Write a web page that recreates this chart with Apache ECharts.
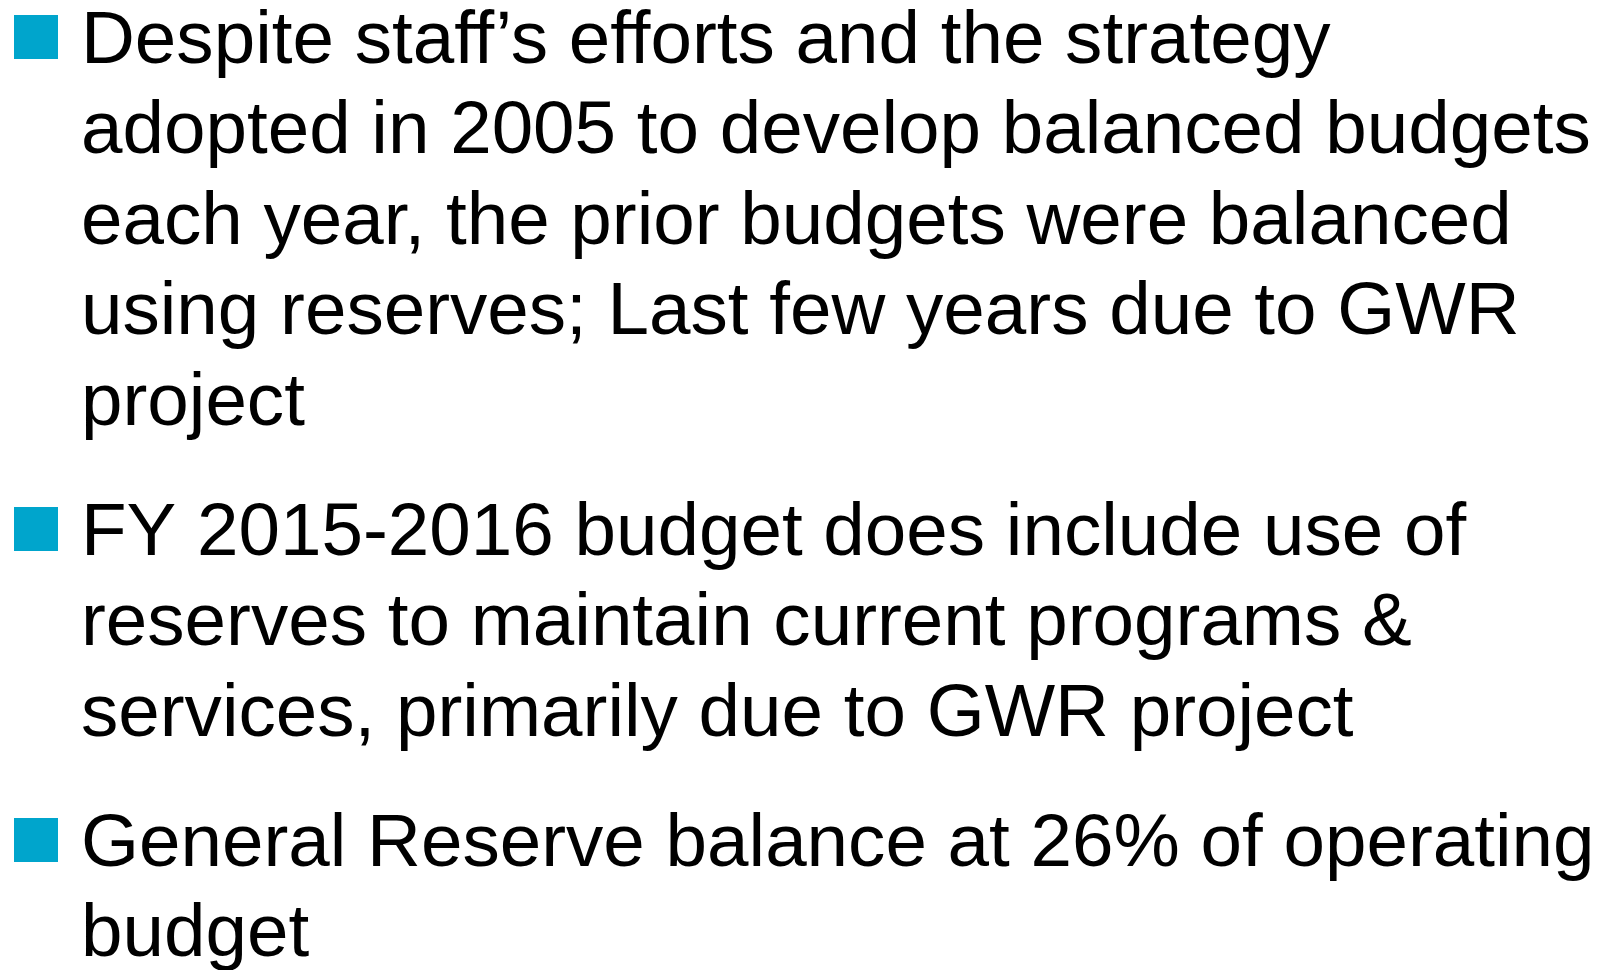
<!DOCTYPE html>
<html>
<head>
<meta charset="utf-8">
<script src="https://cdn.jsdelivr.net/npm/echarts@6/dist/echarts.min.js"></script>
<style>
  html, body { margin: 0; padding: 0; background: #fff; }
  #main { width: 1612px; height: 970px; }
</style>
</head>
<body>
<div id="main"></div>
<script>
// slide text, one array of wrapped lines per bullet
const bullet1 = [
    "Despite staff\u2019s efforts and the strategy",
    "adopted in 2005 to develop balanced budgets",
    "each year, the prior budgets were balanced",
    "using reserves; Last few years due to GWR",
    "project"
];
const bullet2 = [
    "FY 2015-2016 budget does include use of",
    "reserves to maintain current programs &",
    "services, primarily due to GWR project"
];
const bullet3 = [
    "General Reserve balance at 26% of operating",
    "budget"
];
const bullets = [bullet1, bullet2, bullet3];

const fontSize = 74.6;
const lineGap = 90.5;
const paraGap = 130;
const textX = 81;
const firstBaseline = 64;

var chart = echarts.init(document.getElementById('main'));

var elements = [];
var baseline = firstBaseline;
bullets.forEach((lines, i) => {
    if (i > 0) baseline += paraGap;
    // square marker
    elements.push({
        type: 'rect',
        shape: {x: 14, y: baseline - 49, width: 44, height: 44},
        style: {fill: '#00A5CC'}
    });
    lines.forEach((line, j) => {
        if (j > 0) baseline += lineGap;
        elements.push({
            type: 'text',
            style: {
                text: line,
                x: textX,
                y: baseline - 22,
                fill: '#000',
                font: fontSize + 'px "Liberation Sans", Arial, sans-serif',
                align: 'left',
                verticalAlign: 'middle'
            }
        });
    });
});

chart.setOption({
    backgroundColor: '#fff',
    graphic: {elements: elements}
});
</script>
</body>
</html>
